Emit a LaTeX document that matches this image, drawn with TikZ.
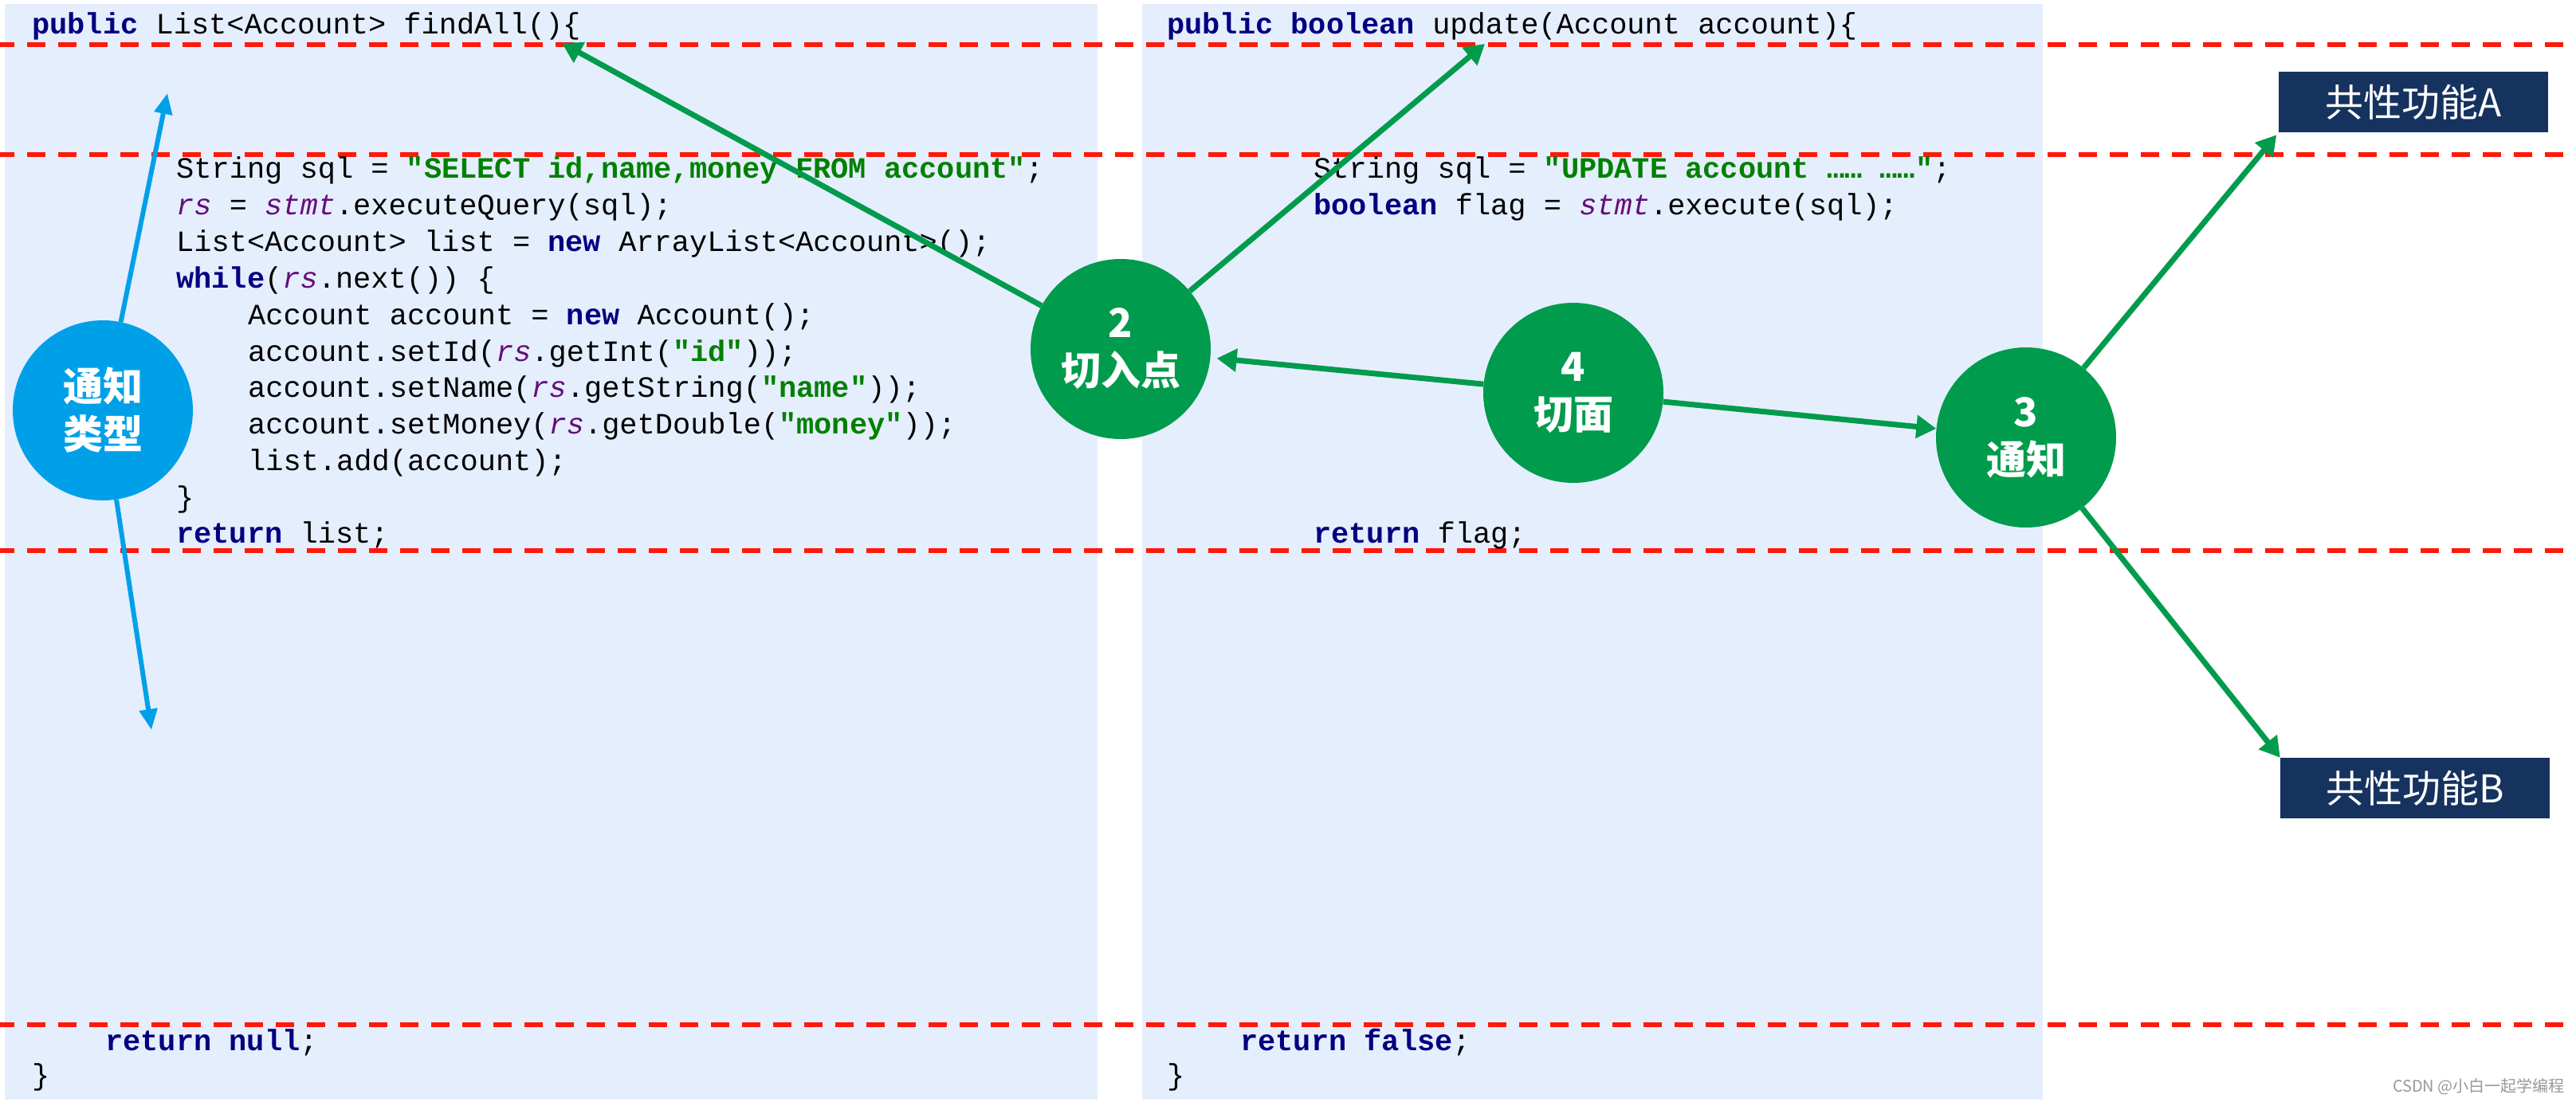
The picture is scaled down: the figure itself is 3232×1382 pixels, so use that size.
\documentclass[tikz,border=0pt]{standalone}
\usepackage{fontspec}
\setmonofont{Liberation Mono}
\newfontfamily\cjk{Noto Sans CJK SC}
\usetikzlibrary{arrows.meta}
\definecolor{panelbg}{RGB}{229,238,253}
\definecolor{dashred}{RGB}{255,25,10}
\definecolor{kwblue}{RGB}{0,0,128}
\definecolor{strgreen}{RGB}{0,128,0}
\definecolor{varpurple}{RGB}{102,14,122}
\definecolor{aopgreen}{RGB}{0,155,76}
\definecolor{aopblue}{RGB}{0,160,233}
\definecolor{boxnavy}{RGB}{22,50,94}
\newcommand\kw[1]{\textbf{\color{kwblue}#1}}
\newcommand\strlit[1]{\textbf{\color{strgreen}#1}}
\newcommand\vr[1]{\textit{\color{varpurple}#1}}
\newcommand\codefont{\ttfamily\fontsize{37}{46}\selectfont}
\tikzset{
  codeline/.style={anchor=base west, inner sep=0pt, font=\codefont},
  sepline/.style={draw=dashred, line width=6pt, dash pattern=on 23pt off 16pt, dash phase=5pt},
  panel/.style={fill=panelbg, draw=none},
  gcirc/.style={circle, fill=aopgreen, text=white, minimum size=226pt, inner sep=0pt,
    align=center, font=\cjk\bfseries\fontsize{50}{60}\selectfont},
  bcirc/.style={gcirc, fill=aopblue},
  fbox/.style={rectangle, fill=boxnavy, text=white, minimum width=338pt, minimum height=76pt,
    inner sep=0pt, font=\cjk\fontsize{48}{50}\selectfont},
  garrow/.style={draw=aopgreen, line width=7pt, -{Triangle[length=25pt,width=28pt]}},
  barrow/.style={draw=aopblue, line width=6pt, -{Triangle[length=26pt,width=22pt]}},
}
\begin{document}
\begin{tikzpicture}[x=1pt,y=-1pt]
\useasboundingbox (0,0) rectangle (3232,1382);
\fill[white] (0,0) rectangle (3232,1382);
% panels
\path[panel] (6,5) rectangle (1377,1380);
\path[panel] (1433,5) rectangle (2563,1380);
% dashed separators
\foreach \yy in {56,194,691,1286} \draw[sepline] (0,\yy) -- (3232,\yy);
% left code
\node[codeline] (l1) at (40,42) {\kw{public} List<Account> findAll()\{};
\node[codeline] (l2) at (221,223) {String sql = \strlit{"SELECT id,name,money FROM account"};};
\node[codeline] (l3) at (221,269) {\vr{rs} = \vr{stmt}.executeQuery(sql);};
\node[codeline] (l4) at (221,315) {List<Account> list = \kw{new} ArrayList<Account>();};
\node[codeline] (l5) at (221,361) {\kw{while}(\vr{rs}.next()) \{};
\node[codeline] (l6) at (311,407) {Account account = \kw{new} Account();};
\node[codeline] (l7) at (311,453) {account.setId(\vr{rs}.getInt(\strlit{"id"}));};
\node[codeline] (l8) at (311,498) {account.setName(\vr{rs}.getString(\strlit{"name"}));};
\node[codeline] (l9) at (311,544) {account.setMoney(\vr{rs}.getDouble(\strlit{"money"}));};
\node[codeline] (l10) at (311,590) {list.add(account);};
\node[codeline] (l11) at (221,636) {\}};
\node[codeline] (l12) at (221,681) {\kw{return} list;};
\node[codeline] (l13) at (132,1318) {\kw{return} \kw{null};};
\node[codeline] (l14) at (40,1361) {\}};
% right code
\node[codeline] (r1) at (1464,42) {\kw{public} \kw{boolean} update(Account account)\{};
\node[codeline] (r2) at (1648,223) {String sql = \strlit{"UPDATE account …… ……"};};
\node[codeline] (r3) at (1648,269) {\kw{boolean} flag = \vr{stmt}.execute(sql);};
\node[codeline] (r4) at (1648,681) {\kw{return} flag;};
\node[codeline] (r5) at (1556,1318) {\kw{return} \kw{false};};
\node[codeline] (r6) at (1464,1361) {\}};
% circles
\node[bcirc] (blue) at (129,515) {通知\\类型};
\node[gcirc] (c2) at (1406,438) {2\\切入点};
\node[gcirc] (c4) at (1974,493) {4\\切面};
\node[gcirc] (c3) at (2542,549) {3\\通知};
% boxes
\node[fbox] (A) at (3028,128) {共性功能A};
\node[fbox] (B) at (3030,989) {共性功能B};
% watermark
\node[anchor=base east, inner sep=0pt, text=black!40, font=\cjk\fontsize{20}{22}\selectfont] (wm) at (3218,1370) {CSDN @小白一起学编程};
% arrow end points
\coordinate (tipU) at (210,117);
\coordinate (tipD) at (190,916);
\coordinate (tipFind) at (705,54);
\coordinate (tipUpd) at (1863,55);
% arrows
\draw[barrow] (blue) -- (tipU);
\draw[barrow] (blue) -- (tipD);
\draw[garrow] (c2) -- (tipFind);
\draw[garrow] (c2) -- (tipUpd);
\draw[garrow, shorten >=8pt] (c4) -- (c2);
\draw[garrow] (c4) -- (c3);
\draw[garrow, shorten >=4pt] (c3) -- (A.south west);
\draw[garrow] (c3) -- (B.north west);
\end{tikzpicture}
\end{document}
